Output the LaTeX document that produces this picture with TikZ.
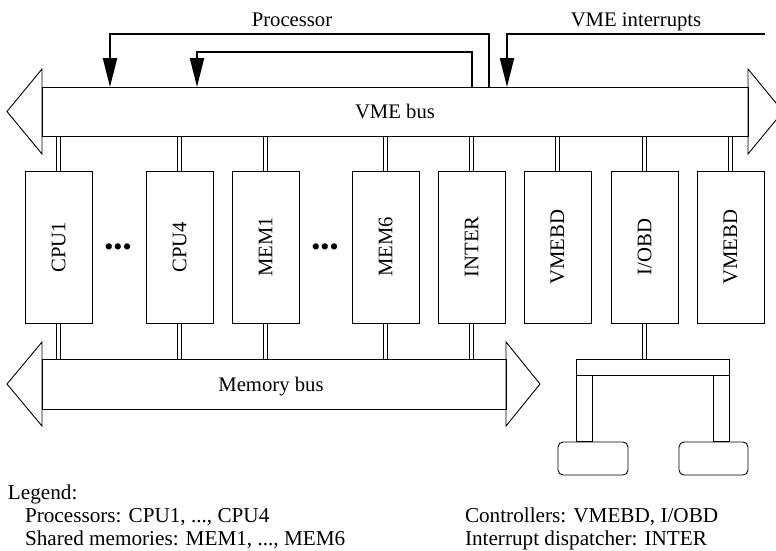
\documentclass[tikz,border=0pt]{standalone}
\usepackage{fontspec}
\usepackage{graphicx}
\setmainfont{Liberation Serif}
\usetikzlibrary{arrows.meta,backgrounds}
\newcommand\diagfont{\fontsize{20.7}{24}\selectfont}
\newcommand\legfont{\fontsize{21.2}{24}\selectfont}
\newcommand\dotfont{\fontsize{26}{28}\selectfont}
\begin{document}
\begin{tikzpicture}[x=1pt,y=-1pt,
  every node/.style={inner sep=0pt, outer sep=0pt},
  thinline/.style={line width=0.9pt},
  unit/.style={draw, thinline, minimum width=67pt, minimum height=152pt, font=\diagfont},
  link/.style={double, double distance=3pt, line width=0.8pt},
  sig/.style={line width=2.2pt, -{Triangle[length=29pt,width=14pt]}},
  lbl/.style={font=\diagfont},
  legend/.style={font=\legfont, anchor=base west},
  device/.style={draw, thinline, rounded corners=5pt, minimum height=33pt}
]
\useasboundingbox (0,0) rectangle (776,550);

% VME bus with arrow heads at both ends
\node[draw, thinline, minimum width=706pt, minimum height=49pt] (vme) at (395,111.5) {};
\draw[thinline] (42,69) -- (7,111.5) -- (42,154) -- cycle;
\draw[thinline] (748,69) -- (783,111.5) -- (748,154) -- cycle;
\node[lbl, anchor=base] (vmetext) at (395,118) {VME bus};

% Memory bus
\node[draw, thinline, minimum width=464pt, minimum height=50pt] (membus) at (274,384) {};
\draw[thinline] (42,342) -- (7,384) -- (42,426) -- cycle;
\draw[thinline] (506,342) -- (540,384) -- (506,426) -- cycle;
\node[lbl, anchor=base] (memtext) at (271,391) {Memory bus};

% Boards
\node[unit] (cpu1)   at (58.5,247)  {\rotatebox{90}{CPU1}};
\node[unit] (cpu4)   at (179.5,247) {\rotatebox{90}{CPU4}};
\node[unit] (mem1)   at (265.5,247) {\rotatebox{90}{MEM1}};
\node[unit] (mem6)   at (385.5,247) {\rotatebox{90}{MEM6}};
\node[unit] (inter)  at (471.5,247) {\rotatebox{90}{INTER}};
\node[unit] (vmebdA) at (557.5,247) {\rotatebox{90}{VMEBD}};
\node[unit] (iobd)   at (644.5,247) {\rotatebox{90}{I/OBD}};
\node[unit] (vmebdB) at (730.5,247) {\rotatebox{90}{VMEBD}};

\node[font=\dotfont] (dotsA) at (118,250) {•••};
\node[font=\dotfont] (dotsB) at (325,250) {•••};

% Peripheral bus below I/OBD
\node[draw, thinline, minimum width=153pt, minimum height=16pt] (dbus) at (652.5,367) {};
\node[draw, thinline, minimum width=16pt, minimum height=66pt] (legL) at (584,408) {};
\node[draw, thinline, minimum width=16pt, minimum height=66pt] (legR) at (721,408) {};
\node[device, minimum width=70pt] (devL) at (593,458.5) {};
\node[device, minimum width=69pt] (devR) at (713.5,458.5) {};

% Bus attachments
\begin{scope}[on background layer]
  \foreach \n in {cpu1,cpu4,mem1,mem6,inter,vmebdA,iobd,vmebdB}
    \draw[link] (\n.north) -- (\n.north |- vme.south);
  \foreach \n in {cpu1,cpu4,mem1,mem6,inter}
    \draw[link] (\n.south) -- (\n.south |- membus.north);
  \draw[link] (iobd.south) -- (iobd.south |- dbus.north);
\end{scope}

% Processor and interrupt signal lines
\draw[sig] ([xshift=447pt]vme.north west) |- (110,34) -- ([xshift=68pt]vme.north west);
\draw[sig] ([xshift=430pt]vme.north west) |- (197,52) -- ([xshift=155pt]vme.north west);
\coordinate (irqsrc) at (765,34);
\draw[sig] (irqsrc) -| ([xshift=465pt]vme.north west);
\node[lbl, anchor=base] (proclbl) at (292,26) {Processor};
\node[lbl, anchor=base] (irqlbl) at (636,26) {VME interrupts};

% Legend
\node[legend] (lg0) at (8,499) {Legend:};
\node[legend] (lg1) at (25,522.5) {Processors: CPU1, ..., CPU4};
\node[legend] (lg2) at (25,545) {Shared memories: MEM1, ..., MEM6};
\node[legend] (lg3) at (465,522.5) {Controllers: VMEBD, I/OBD};
\node[legend] (lg4) at (465,545) {Interrupt dispatcher: INTER};
\end{tikzpicture}
\end{document}
